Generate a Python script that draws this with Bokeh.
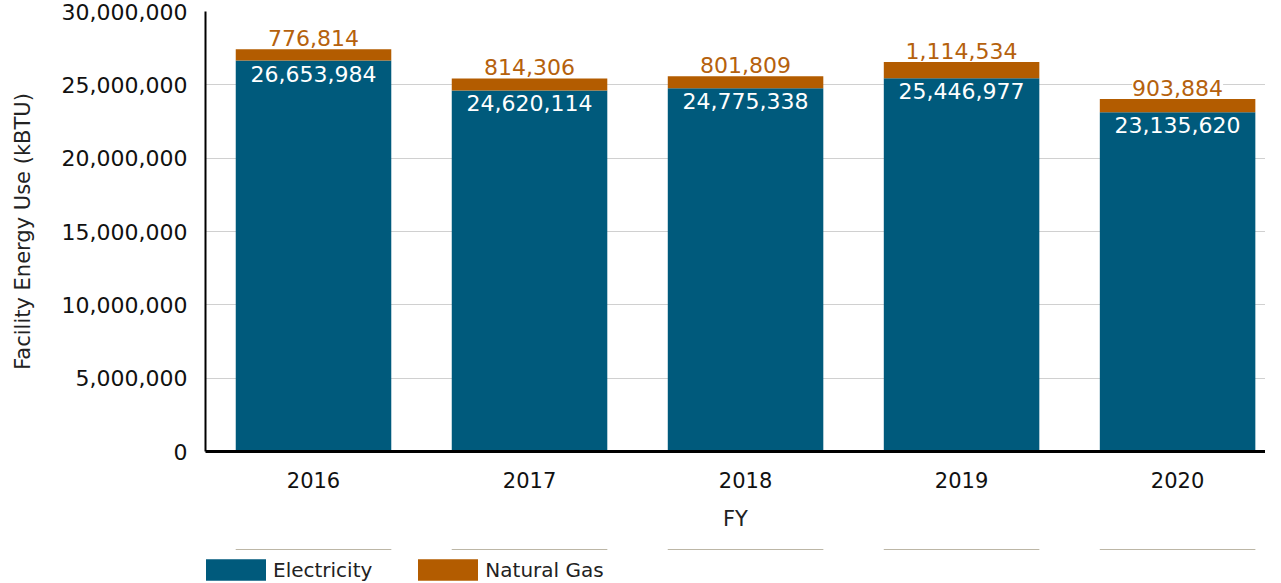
from bokeh.plotting import figure
from bokeh.layouts import column
from bokeh.models import (ColumnDataSource, Range1d, FixedTicker,
                          NumeralTickFormatter, LabelSet, Legend, LegendItem)
from bokeh.core.properties import value
from bokeh.embed import file_html
from bokeh.resources import INLINE

years = ["2016", "2017", "2018", "2019", "2020"]
electricity = [26653984, 24620114, 24775338, 25446977, 23135620]
natural_gas = [776814, 814306, 801809, 1114534, 903884]
y_ticks = [0, 5000000, 10000000, 15000000, 20000000, 25000000, 30000000]
series_names = ["Electricity", "Natural Gas"]

BLUE = "#005a7c"
ORANGE = "#b35c00"
ORANGE_TXT = "#b5610d"
FONT = "DejaVu Sans"
W = 1265

idx = list(range(len(years)))
total = [e + g for e, g in zip(electricity, natural_gas)]
src = ColumnDataSource(dict(
    x=idx, electricity=electricity, gas=natural_gas, total=total,
    e_txt=[f"{v:,}" for v in electricity],
    g_txt=[f"{v:,}" for v in natural_gas],
))

p = figure(width=W, height=549, output_backend="svg", toolbar_location=None,
           x_range=Range1d(-0.5, 4.407), y_range=Range1d(0, 30000000),
           min_border_left=205, min_border_right=0, min_border_top=11,
           min_border_bottom=98)
p.outline_line_color = None
p.background_fill_color = "white"

rs = p.vbar_stack(["electricity", "gas"], x="x", width=0.72, source=src,
                  color=[BLUE, ORANGE], line_color=None)

p.xgrid.visible = False
p.ygrid.grid_line_color = "#d0d0d0"
p.ygrid.grid_line_width = 1.2

yax = p.yaxis[0]
yax.ticker = FixedTicker(ticks=y_ticks)
yax.formatter = NumeralTickFormatter(format="0,0")
yax.axis_line_color = "black"
yax.axis_line_width = 2
yax.major_tick_line_color = None
yax.minor_tick_line_color = None
yax.major_label_standoff = 12
yax.major_label_text_font = FONT
yax.major_label_text_font_size = "22px"
yax.major_label_text_color = "#111111"
yax.axis_label = "Facility Energy Use (kBTU)"
yax.axis_label_text_font = FONT
yax.axis_label_text_font_size = "21px"
yax.axis_label_text_font_style = "normal"
yax.axis_label_text_color = "#222222"
yax.axis_label_standoff = 24

xa = p.xaxis[0]
xa.ticker = FixedTicker(ticks=idx)
xa.major_label_overrides = {i: y for i, y in zip(idx, years)}
xa.axis_line_color = "black"
xa.axis_line_width = 3
xa.major_tick_line_color = None
xa.minor_tick_line_color = None
xa.major_label_standoff = 14
xa.major_label_text_font = FONT
xa.major_label_text_font_size = "21px"
xa.major_label_text_color = "#111111"
xa.axis_label = "FY"
xa.axis_label_text_font = FONT
xa.axis_label_text_font_size = "21px"
xa.axis_label_text_font_style = "normal"
xa.axis_label_text_color = "#222222"
xa.axis_label_standoff = 16

gas_lbl = LabelSet(x="x", y="total", text="g_txt", source=src, text_align="center",
                   text_baseline="bottom", y_offset=3, text_color=ORANGE_TXT,
                   text_font=value(FONT), text_font_size="22px",
                   background_fill_color="white")
el_lbl = LabelSet(x="x", y="electricity", text="e_txt", source=src, text_align="center",
                  text_baseline="top", y_offset=-5, text_color="white",
                  text_font=value(FONT), text_font_size="22px")
p.add_layout(gas_lbl)
p.add_layout(el_lbl)

# legend strip below the chart (its bars sit just outside the strip's visible range)
lg = figure(width=W, height=34, output_backend="svg", toolbar_location=None,
            x_range=Range1d(-0.5, 4.407), y_range=Range1d(-60000000, -30000000),
            x_axis_location=None, y_axis_location=None, min_border=0)
lg.outline_line_color = None
lg.grid.visible = False
r_e = lg.vbar(x="x", top="electricity", width=0.72, source=src,
              color=BLUE, line_color=None)
r_g = lg.vbar(x="x", top="gas", width=0.72, source=src,
              color=ORANGE, line_color=None)
legend = Legend(items=[LegendItem(label=series_names[0], renderers=[r_e]),
                       LegendItem(label=series_names[1], renderers=[r_g])],
                orientation="horizontal", location=(-7, 0))
legend.border_line_color = None
legend.background_fill_alpha = 0
legend.glyph_width = 75
legend.glyph_height = 27
legend.label_standoff = 0
legend.spacing = 38
legend.padding = 0
legend.margin = 0
legend.label_text_font = FONT
legend.label_text_font_size = "20px"
legend.label_text_color = "#222222"
legend.label_height = 27
lg.add_layout(legend, "center")

layout = column(p, lg, spacing=0)
open("out.html", "w").write(file_html(layout, INLINE))
